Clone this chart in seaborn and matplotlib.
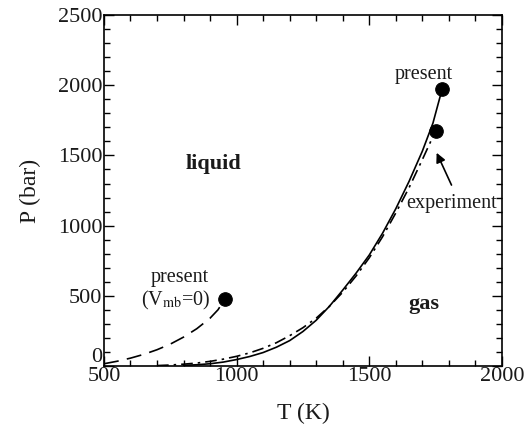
import numpy as np
import pandas as pd
import matplotlib
matplotlib.use("Agg")
import matplotlib.pyplot as plt
import matplotlib.transforms as mtransforms
import seaborn as sns
from matplotlib.ticker import MultipleLocator, FuncFormatter

# Data
T_present = [800, 850, 900, 950, 1000, 1050, 1100, 1150, 1200, 1250, 1300, 1350,
             1400, 1450, 1500, 1550, 1600, 1650, 1700, 1740, 1775]
P_present = [3, 8, 15, 27, 45, 67, 95, 133, 180, 245, 325, 425,
             540, 660, 790, 945, 1120, 1315, 1530, 1730, 1975]

T_exp = [700, 750, 800, 850, 900, 950, 1000, 1050, 1100, 1150, 1200, 1250, 1300,
         1350, 1400, 1450, 1500, 1550, 1600, 1650, 1700, 1750]
P_exp = [2, 6, 12, 20, 32, 48, 68, 93, 125, 165, 215, 272, 340,
         425, 525, 640, 770, 920, 1090, 1270, 1470, 1675]

T_vmb0 = [500, 550, 600, 650, 700, 750, 800, 850, 900, 930, 955]
P_vmb0 = [15, 33, 55, 82, 115, 155, 205, 265, 340, 400, 475]

crit_T = [1775, 1750, 955]
crit_P = [1975, 1675, 475]

sns.set_theme(style="ticks")
plt.rcParams['font.family'] = ['Liberation Serif', 'DejaVu Serif']
plt.rcParams['mathtext.fontset'] = 'stix'

fig = plt.figure(figsize=(5.25, 4.34), dpi=100)
ax = fig.add_axes([0.198, 0.157, 0.758, 0.808])

df1 = pd.DataFrame({"T": T_present, "P": P_present})
df2 = pd.DataFrame({"T": T_exp, "P": P_exp})
df3 = pd.DataFrame({"T": T_vmb0, "P": P_vmb0})
dfc = pd.DataFrame({"T": crit_T, "P": crit_P})

txt = "#1a1a1a"
sns.lineplot(data=df1, x="T", y="P", ax=ax, color="black", lw=1.2, sort=False)
sns.lineplot(data=df2, x="T", y="P", ax=ax, color="black", lw=1.2, sort=False)
ax.lines[-1].set_dashes([7, 3, 1.5, 3])
sns.lineplot(data=df3, x="T", y="P", ax=ax, color="black", lw=1.2, sort=False)
ax.lines[-1].set_dashes([9, 5])
sns.scatterplot(data=dfc, x="T", y="P", ax=ax, color="black", s=95,
                edgecolor="black", zorder=5)

ax.set_xlim(500, 2000)
ax.set_ylim(0, 2500)
ax.xaxis.set_major_locator(MultipleLocator(500))
ax.xaxis.set_minor_locator(MultipleLocator(100))
ax.yaxis.set_major_locator(MultipleLocator(500))
ax.yaxis.set_minor_locator(MultipleLocator(100))
# the y "0" label is drawn separately, just above the axis line as in the reference
ax.yaxis.set_major_formatter(FuncFormatter(lambda v, p: "" if abs(v) < 1e-9 else f"{v:.0f}"))
ax.tick_params(which="both", direction="in", top=True, right=True,
               labelsize=16, width=1.0, color="black", labelcolor=txt, pad=1)
ax.tick_params(which="major", length=7)
ax.tick_params(which="minor", length=4)
for s in ax.spines.values():
    s.set_linewidth(1.2)
    s.set_color("black")

zero_tr = mtransforms.blended_transform_factory(ax.transAxes, ax.transData) + \
    mtransforms.ScaledTranslation(-1 / 72, -1 / 72, fig.dpi_scale_trans)
ax.text(0, 0, "0", transform=zero_tr, fontsize=16, ha="right", va="bottom", color=txt)

ax.set_xlabel("T (K)", fontsize=17, labelpad=12, color=txt)
ax.set_ylabel("P (bar)", fontsize=17, labelpad=12, color=txt)

ax.text(1706, 2080, "present", fontsize=14.5, ha="center", va="center", color=txt)
ax.text(911, 1438, "liquid", fontsize=16, fontweight="bold", ha="center", va="center", color=txt)
ax.text(1706, 441, "gas", fontsize=16, fontweight="bold", ha="center", va="center", color=txt)
ax.text(1812, 1160, "experiment", fontsize=14.5, ha="center", va="center", color=txt)
ax.text(784, 629, "present", fontsize=14.5, ha="center", va="center", color=txt)
ax.text(771, 468, r"(V$_{\mathrm{mb}}$=0)", fontsize=14.5, ha="center", va="center", color=txt)
ax.annotate("", xy=(1754, 1519), xytext=(1810, 1289),
            arrowprops=dict(arrowstyle="-|>", color="black", lw=1.2,
                            mutation_scale=14, shrinkA=0, shrinkB=0))

fig.savefig("out.png", dpi=100)
